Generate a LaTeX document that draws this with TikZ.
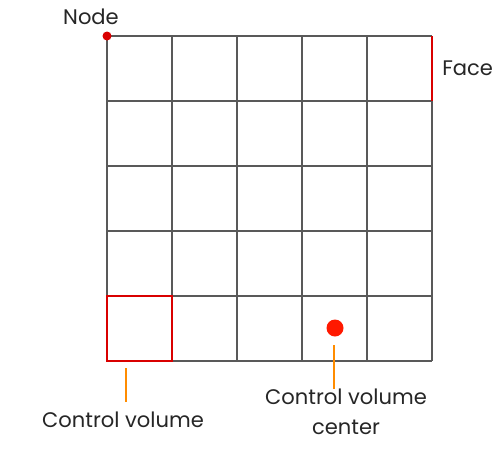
\documentclass[tikz,border=0pt]{standalone}
\usepackage{fontspec}
\setmainfont{Poppins}
\begin{document}
\begin{tikzpicture}[x=0.75pt,y=-0.75pt,
  gridline/.style={draw=black!65,line width=1.5pt},
  redline/.style={draw=red!85!black,line width=1.6pt},
  leader/.style={draw=orange!90!yellow,line width=1.2pt},
  lbl/.style={font=\fontsize{15.8}{22.5}\selectfont,text=black!85,inner sep=0pt,align=center}]
\useasboundingbox (0,0) rectangle (498,461);
\foreach \i in {0,...,5}{
  \draw[gridline] (107+65*\i,36) -- (107+65*\i,361);
  \draw[gridline] (107,36+65*\i) -- (432,36+65*\i);
}
\draw[redline] (432,36) -- (432,101);
\draw[redline] (107,296) rectangle (172,361);
\fill[red!85!black] (107,36) circle (4.5);
\fill[red!80!orange] (335,328) circle (8.5);
\node[lbl] (node) at (91,17) {Node};
\node[lbl,anchor=west] (face) at (442,68) {Face};
\node[lbl] (cv) at (123,420) {Control volume};
\node[lbl] (cvc) at (346,412) {Control volume\\center};
\coordinate (cvtop) at (126,368);
\coordinate (cvctop) at (334,345);
\draw[leader] (cvtop) -- (126,402);
\draw[leader] (cvctop) -- (334,389);
\end{tikzpicture}
\end{document}
